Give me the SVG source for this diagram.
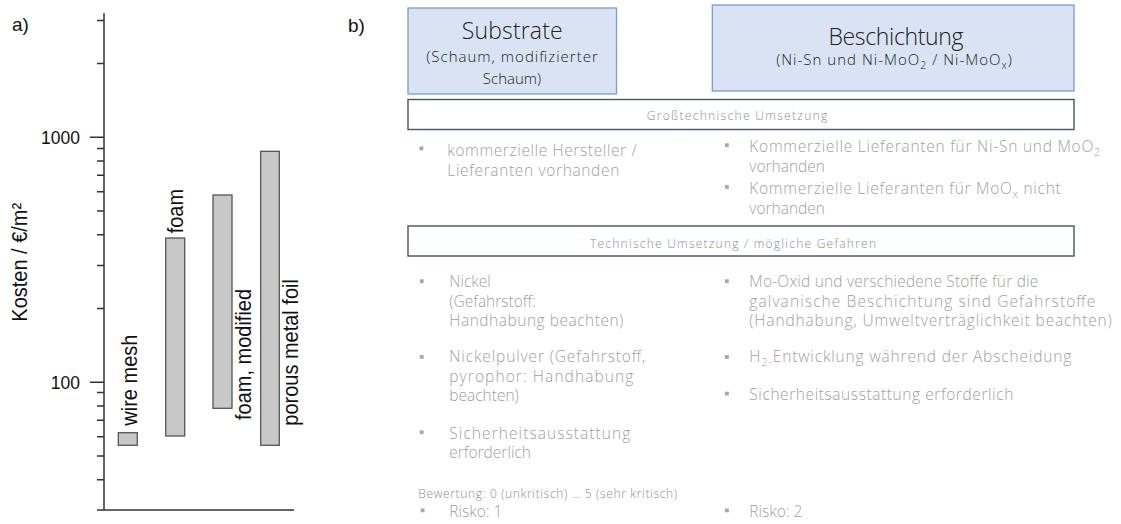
<svg xmlns="http://www.w3.org/2000/svg" width="1121" height="524" viewBox="0 0 1121 524">
<style>
.ax{stroke:#333;stroke-width:1.5;fill:none}
.bar{fill:#c8c8c8;stroke:#555;stroke-width:1.3}
.lbl{font-family:"Liberation Sans",Arial,sans-serif;fill:#111}
.hdr{fill:#dae3f3;stroke:#7c9bd0;stroke-width:1.3}
.sec{fill:#fff;stroke:#44546a;stroke-width:1.4}
.t{font-family:"Open Sans","Noto Sans",sans-serif;font-weight:300}
.ht{fill:#222}
.st{fill:#8c8c8c;font-size:12px}
.bt{fill:#a0a0a0;font-size:15.5px}
.bu{fill:#a8a8a8}
</style>
<defs>
<rect id="sq" class="bu" width="3.8" height="3.8"/>
</defs>
<g id="chart">
<text class="lbl" x="12" y="31" font-size="19">a)</text>
<line class="ax" x1="104" y1="13" x2="104" y2="510"/>
<line class="ax" x1="97" y1="510" x2="294" y2="510"/>
<path class="ax" d="M90 137.3H104M90 382.3H104M97 20.5H104M97 63.5H104M97 148.5H104M97 161H104M97 175.3H104M97 191.7H104M97 211H104M97 234.8H104M97 265.4H104M97 308.6H104M97 392.5H104M97 406H104M97 420.3H104M97 436.7H104M97 456H104M97 479.8H104"/>
<text class="lbl" x="80" y="143.5" font-size="17.5" text-anchor="end">1000</text>
<text class="lbl" x="80" y="388.5" font-size="17.5" text-anchor="end">100</text>
<text class="lbl" font-size="20" transform="translate(27,321.7) scale(1.08,1) rotate(-90)">Kosten / €/m²</text>
<rect class="bar" x="118.3" y="432.7" width="19" height="12.6"/>
<rect class="bar" x="165.7" y="238" width="19" height="198"/>
<rect class="bar" x="213" y="195" width="19" height="213.3"/>
<rect class="bar" x="260.7" y="151.3" width="18.6" height="294"/>
<text class="lbl" font-size="20" transform="translate(136.5,425.7) scale(1.08,1) rotate(-90)">wire mesh</text>
<text class="lbl" font-size="20" transform="translate(182.5,233.3) scale(1.08,1) rotate(-90)">foam</text>
<text class="lbl" font-size="20" transform="translate(250.5,420) scale(1.08,1) rotate(-90)">foam, modified</text>
<text class="lbl" font-size="20" transform="translate(298,425.7) scale(1.08,1) rotate(-90)">porous metal foil</text>
</g>
<text class="lbl" x="348" y="32" font-size="19">b)</text>
<g id="substrate">
<rect class="hdr" x="408" y="8" width="208.5" height="86"/>
<text class="t ht" x="512.2" y="39" font-size="23" text-anchor="middle" textLength="101">Substrate</text>
<text class="t ht" x="512" y="62" font-size="15" text-anchor="middle" textLength="171.7">(Schaum, modifizierter</text>
<text class="t ht" x="512" y="83.5" font-size="15" text-anchor="middle">Schaum)</text>
</g>
<g id="beschichtung">
<rect class="hdr" x="712.3" y="5" width="361.7" height="86"/>
<text class="t ht" x="896" y="45" font-size="23" text-anchor="middle" textLength="135">Beschichtung</text>
<text class="t ht" x="894" y="65" font-size="15" text-anchor="middle" textLength="235.7">(Ni-Sn und Ni-MoO<tspan dy="3.5" font-size="10.5">2</tspan><tspan dy="-3.5"> / Ni-MoO</tspan><tspan dy="3.5" font-size="10.5">x</tspan><tspan dy="-3.5">)</tspan></text>
</g>
<g id="grosstechnisch">
<rect class="sec" x="408" y="99.5" width="666" height="30"/>
<text class="t st" x="737" y="120" text-anchor="middle" textLength="180.6">Großtechnische Umsetzung</text>
</g>
<g id="gross-substrate">
<use href="#sq" x="419.5" y="146.5"/>
<text class="t bt" x="447.3" y="156" textLength="189.4">kommerzielle Hersteller /</text>
<text class="t bt" x="447.3" y="175.5" textLength="172">Lieferanten vorhanden</text>
</g>
<g id="gross-beschichtung">
<use href="#sq" x="725" y="143.3"/>
<text class="t bt" x="749.3" y="152" textLength="351">Kommerzielle Lieferanten für Ni-Sn und MoO<tspan dy="4" font-size="11">2</tspan></text>
<text class="t bt" x="749.3" y="171.5">vorhanden</text>
<use href="#sq" x="725" y="185"/>
<text class="t bt" x="749.3" y="194" textLength="311.4">Kommerzielle Lieferanten für MoO<tspan dy="4" font-size="11">x</tspan><tspan dy="-4"> nicht</tspan></text>
<text class="t bt" x="749.3" y="213.5">vorhanden</text>
</g>
<g id="technisch">
<rect class="sec" x="408" y="226" width="666" height="30"/>
<text class="t st" x="733" y="247.5" text-anchor="middle" textLength="286">Technische Umsetzung / mögliche Gefahren</text>
</g>
<g id="tech-substrate">
<use href="#sq" x="419.8" y="279.3"/>
<text class="t bt" x="449.3" y="287">Nickel</text>
<text class="t bt" x="449.3" y="306.5">(Gefahrstoff:</text>
<text class="t bt" x="449.3" y="326" textLength="174">Handhabung beachten)</text>
<use href="#sq" x="419.8" y="355"/>
<text class="t bt" x="449.3" y="362" textLength="196">Nickelpulver (Gefahrstoff,</text>
<text class="t bt" x="449.3" y="381.5" textLength="184">pyrophor: Handhabung</text>
<text class="t bt" x="449.3" y="401">beachten)</text>
<use href="#sq" x="419.8" y="430.3"/>
<text class="t bt" x="449.3" y="438.5" textLength="181">Sicherheitsausstattung</text>
<text class="t bt" x="449.3" y="458">erforderlich</text>
</g>
<g id="tech-beschichtung">
<use href="#sq" x="725" y="279.3"/>
<text class="t bt" x="749.3" y="287" textLength="289">Mo-Oxid und verschiedene Stoffe für die</text>
<text class="t bt" x="749.3" y="306.5" textLength="346">galvanische Beschichtung sind Gefahrstoffe</text>
<text class="t bt" x="749.3" y="326" textLength="362.5">(Handhabung, Umweltverträglichkeit beachten)</text>
<use href="#sq" x="725" y="355"/>
<text class="t bt" x="749.3" y="362" textLength="322">H<tspan dy="4" font-size="11">2-</tspan><tspan dy="-4">Entwicklung während der Abscheidung</tspan></text>
<use href="#sq" x="725" y="391.7"/>
<text class="t bt" x="749.3" y="400" textLength="264">Sicherheitsausstattung erforderlich</text>
</g>
<g id="bewertung">
<text class="t" x="418.3" y="497.5" font-size="12" fill="#8c8c8c" textLength="258.7">Bewertung: 0 (unkritisch) … 5 (sehr kritisch)</text>
<use href="#sq" x="420.7" y="508.5"/>
<text class="t bt" x="449.3" y="517">Risko: 1</text>
<use href="#sq" x="725" y="508.5"/>
<text class="t bt" x="749.3" y="517">Risko: 2</text>
</g>
</svg>
